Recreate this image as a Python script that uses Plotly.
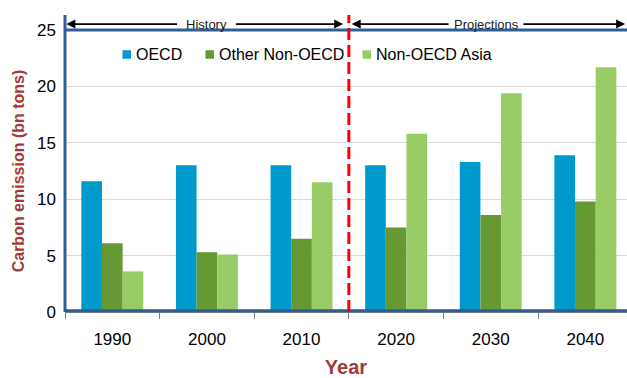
import plotly.graph_objects as go

years = ["1990", "2000", "2010", "2020", "2030", "2040"]
oecd = [11.6, 13.0, 13.0, 13.0, 13.3, 13.9]
other_non_oecd = [6.1, 5.3, 6.5, 7.5, 8.6, 9.8]
non_oecd_asia = [3.6, 5.1, 11.5, 15.8, 19.4, 21.7]
series_names = ["OECD", "Other Non-OECD", "Non-OECD Asia"]
series_values = [oecd, other_non_oecd, non_oecd_asia]
colors = ["#0099CC", "#669933", "#99CC66"]

title_color = "#A33A3A"
border_color = "#2F5D99"

# plot-area geometry (pixels) for placing the legend
L, R, T, B = 65, 627, 30, 312
def px_x(p):
    return (p - L) / (R - L)
def px_y(p):
    return (B - p) / (B - T)

fig = go.Figure()
for name, vals, col in zip(series_names, series_values, colors):
    fig.add_trace(go.Bar(x=years, y=vals, name=name, showlegend=False,
                         marker=dict(color=col, line=dict(width=0))))

fig.update_layout(
    width=627, height=378,
    margin=dict(l=L, r=627 - R, t=T, b=378 - B),
    paper_bgcolor="white", plot_bgcolor="white",
    barmode="group", bargap=0.345, bargroupgap=0,
    font=dict(family="Liberation Sans, Arial, sans-serif", color="black"),
    showlegend=False,
    xaxis=dict(type="category", range=[-0.5, 5.44], ticks="outside", tickson="boundaries",
               ticklen=6, tickcolor="#808080", showline=True, linecolor="#808080",
               tickfont=dict(size=17), ticklabelstandoff=12, showgrid=False,
               title=dict(text="<b>Year</b>", font=dict(size=20, color=title_color), standoff=14)),
    yaxis=dict(range=[0, 25], tickvals=[0, 5, 10, 15, 20, 25], showgrid=True,
               gridcolor="#D9D9D9", gridwidth=1, zeroline=False, ticks="",
               tickfont=dict(size=17), ticklabelstandoff=8,
               title=dict(text="<b>Carbon emission (bn tons)</b>",
                          font=dict(size=16, color=title_color), standoff=8)),
)

shapes = [
    dict(type="line", xref="paper", yref="paper", x0=0, x1=0, y0=0, y1=1.053,
         line=dict(color=border_color, width=3)),
    dict(type="line", xref="paper", yref="paper", x0=0, x1=1, y0=1, y1=1,
         line=dict(color=border_color, width=3)),
    dict(type="line", xref="paper", yref="paper", x0=0, x1=1, y0=0.004, y1=0.004,
         line=dict(color=border_color, width=3)),
    dict(type="line", xref="x", yref="paper", x0=2.5, x1=2.5, y0=0, y1=1.053,
         line=dict(color="#FF0000", width=3, dash="12px,5px")),
]

# legend drawn as colored squares + labels
legend_sq_x = [122.5, 205.5, 362.5]
legend_y = 54.5
for sx, name, col in zip(legend_sq_x, series_names, colors):
    shapes.append(dict(type="rect", xref="paper", yref="paper",
                       x0=px_x(sx), x1=px_x(sx + 8.5), y0=px_y(legend_y + 4.25), y1=px_y(legend_y - 4.25),
                       fillcolor=col, line=dict(width=0)))
    fig.add_annotation(x=px_x(sx + 11), y=px_y(legend_y + 0.5), xref="paper", yref="paper",
                       text=name, showarrow=False, xanchor="left", yanchor="middle",
                       font=dict(size=16, color="black"))
fig.update_layout(shapes=shapes)

arrow_y = 1.021
arrows = [(-0.486, 0.70), (2.44, 1.29), (2.53, 3.57), (5.42, 4.33)]
for tip, tail in arrows:
    fig.add_annotation(x=tip, y=arrow_y, xref="x", yref="paper", ax=tail, ay=0,
                       axref="x", ayref="pixel", text="", showarrow=True,
                       arrowhead=2, arrowsize=1, arrowwidth=1.8, arrowcolor="black")
fig.add_annotation(x=1.0, y=arrow_y, xref="x", yref="paper", text="History",
                   showarrow=False, xanchor="center", yanchor="middle",
                   font=dict(size=13, color="#222222"))
fig.add_annotation(x=3.95, y=arrow_y, xref="x", yref="paper", text="Projections",
                   showarrow=False, xanchor="center", yanchor="middle",
                   font=dict(size=13, color="#222222"))

fig.write_html("out.html")
